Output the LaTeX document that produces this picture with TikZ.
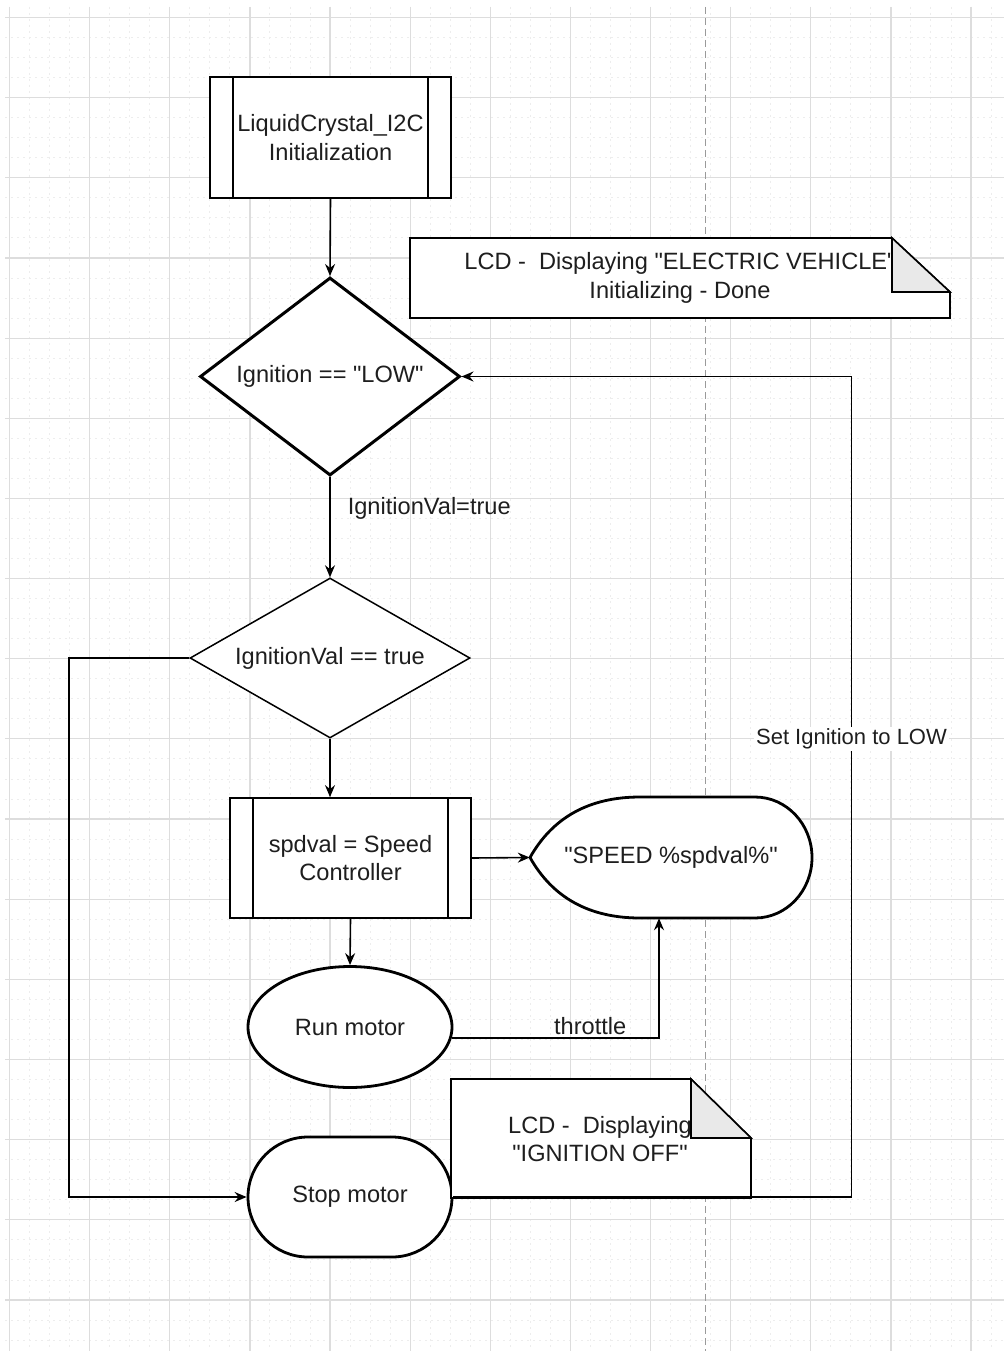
\documentclass[tikz,border=0pt]{standalone}
\usepackage{fontspec}
\setmainfont{Liberation Sans}[Ligatures=TeXOff]
\usetikzlibrary{shapes.geometric,arrows.meta,calc}
\definecolor{gridmaj}{HTML}{DDDDDD}
\definecolor{gridmin}{HTML}{EDEDED}
\definecolor{txt}{HTML}{1E1E1E}
\definecolor{foldc}{HTML}{E9E9E9}
\definecolor{pagebrk}{HTML}{9A9A9A}
\begin{document}
\begin{tikzpicture}[x=1pt,y=-1pt,
  every node/.style={font=\fontsize{23.6}{28.5}\selectfont, text=txt},
  proc/.style={draw, line width=1.8pt, fill=white, minimum width=241pt, minimum height=121pt, inner sep=0pt, align=center},
  dec/.style={draw, diamond, fill=white, inner sep=0pt},
  term/.style={draw, fill=white, line width=2.8pt, minimum width=204pt, minimum height=121pt, inner sep=0pt},
  arr/.style={-{Stealth[length=12pt,width=10pt,inset=4pt]}, line width=1.6pt},
  lbl/.style={inner sep=2pt},
  notebox/.style={draw, fill=white, line width=1.6pt, line join=miter},
  fold/.style={draw, fill=foldc, line width=1.6pt},
]
\useasboundingbox (0,0) rectangle (1004,1351);
\fill[white] (0,0) rectangle (1004,1351);
% grid
\begin{scope}
\clip (5,7) rectangle (1004,1351);
\foreach \i in {0,...,50} {
  \draw[gridmin, line width=1pt, dash pattern=on 2pt off 4pt] ({9.6+20.03*\i},7) -- ({9.6+20.03*\i},1351);
}
\foreach \i in {0,...,67} {
  \draw[gridmin, line width=1pt, dash pattern=on 2pt off 4pt] (5,{17.5+20.04*\i}) -- (1004,{17.5+20.04*\i});
}
\foreach \i in {0,...,12} {
  \draw[gridmaj, line width=1.2pt] ({9.6+80.12*\i},7) -- ({9.6+80.12*\i},1351);
}
\foreach \i in {0,...,16} {
  \draw[gridmaj, line width=1.2pt] (5,{17.5+80.15*\i}) -- (1004,{17.5+80.15*\i});
}
\draw[pagebrk, line width=1pt, dash pattern=on 7pt off 4pt] (705,7) -- (705,1351);
\end{scope}

% nodes
\node[proc] (p1) at (330.5,137.5) {LiquidCrystal\_I2C\\Initialization};
\draw[line width=1.8pt] ($(p1.north west)+(24,0)$) -- ($(p1.south west)+(24,0)$);
\draw[line width=1.8pt] ($(p1.north east)+(-24,0)$) -- ($(p1.south east)+(-24,0)$);

\node[dec, line width=3pt, aspect=1.31, minimum width=260pt, minimum height=198pt] (d1) at (330,376.5) {Ignition == "LOW"};
\node[dec, line width=1.5pt, aspect=1.75, minimum width=280pt, minimum height=160pt] (d2) at (330,658) {IgnitionVal == true};

\node[proc, minimum height=120pt] (spd) at (350.5,858) {spdval = Speed\\Controller};
\draw[line width=1.8pt] ($(spd.north west)+(24,0)$) -- ($(spd.south west)+(24,0)$);
\draw[line width=1.8pt] ($(spd.north east)+(-24,0)$) -- ($(spd.south east)+(-24,0)$);

% display shape
\draw[line width=2.8pt, fill=white, line join=round]
  (530,857.5) .. controls (552.7,817.3) and (589.3,797) .. (640,797)
  -- (755,797) .. controls (786.5,797) and (812,824.1) .. (812,857.5)
  .. controls (812,890.9) and (786.5,918) .. (755,918)
  -- (640,918) .. controls (589.3,918) and (552.7,897.7) .. (530,857.5) -- cycle;
\node[minimum width=282pt, minimum height=121pt, inner sep=0pt] (disp) at (671,857.5) {"SPEED \%spdval\%"};

\node[term, ellipse] (run) at (350,1027) {Run motor};
\node[term, rectangle, rounded corners=60pt, minimum height=120pt] (stop) at (350,1197) {Stop motor};

% note 1
\draw[notebox] (410,238) -- (892,238) -- (950,292) -- (950,318) -- (410,318) -- cycle;
\node[align=center, inner sep=0pt] (n1) at (680,278) {LCD -\ \ Displaying "ELECTRIC VEHICLE"\\Initializing - Done};
\draw[fold] (892,238) -- (892,292) -- (950,292) -- cycle;

% note 2
\draw[notebox] (451,1079) -- (691,1079) -- (751,1138) -- (751,1198) -- (451,1198) -- cycle;
\node[align=center, inner sep=0pt] (n2) at (600,1139) {LCD -\ \ Displaying\\"IGNITION OFF"};
\draw[fold] (691,1079) -- (691,1138) -- (751,1138) -- cycle;

% connectors
\draw[arr] (p1.south) -- (d1.north);
\draw[arr] (d1.south) -- node[pos=0.31, anchor=west, xshift=15pt, lbl] {IgnitionVal=true} (d2.north);
\draw[arr] (d2.south) -- (d2.south |- spd.north);
\draw[arr] (d2.west) -- ++(-120,0) |- (stop.west);
\draw[arr] (spd.east) -- (disp.west);
\draw[arr] (spd.south) -- (run.north);
\draw[arr] (run.-6) -| node[pos=0.334, anchor=south, inner sep=2pt] {throttle} ($(disp.south)+(-12,0)$);
\draw[arr] (stop.east) -| node[pos=0.779, fill=white, inner sep=2pt, font=\fontsize{22}{26}\selectfont] {Set Ignition to LOW} ($(d1.east)+(390,0)$) -- (d1.east);
\end{tikzpicture}
\end{document}
